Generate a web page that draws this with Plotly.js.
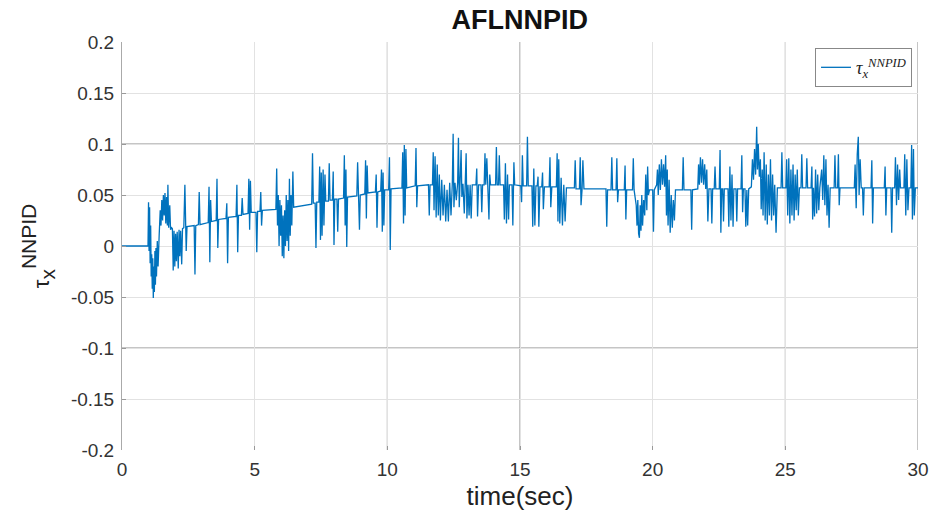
<!DOCTYPE html>
<html><head><meta charset="utf-8">
<script src="https://cdn.plot.ly/plotly-3.0.1.min.js"></script>
<style>html,body{margin:0;padding:0;background:#fff}#chart{width:933px;height:523px}</style>
</head><body><div id="chart"></div>
<script>
const timeSec = [
0,0.98,1.00,1.02,1.04,1.06,1.08,1.10,1.12,1.14,1.16,1.18,1.20,1.22,1.24,1.26,1.28,1.30,1.33,1.36,1.40,1.44,1.47,1.50,1.53,1.56,1.59,1.62,1.65,1.68,1.71,1.73,1.76,1.80,1.83,1.87,
1.90,1.93,1.96,1.99,2.02,2.05,2.08,2.12,2.15,2.18,2.21,2.25,2.28,2.33,2.37,2.40,2.42,2.45,2.72,2.75,2.78,2.88,2.91,2.94,
3.25,3.28,3.31,3.34,3.37,3.55,3.58,3.61,3.64,3.92,3.95,3.98,4.01,4.30,4.33,4.36,4.39,4.50,4.53,4.56,4.75,4.78,4.81,4.84,4.87,
5.05,5.08,5.11,5.20,5.23,5.26,5.29,5.80,5.83,5.86,5.89,5.92,5.95,5.98,6.01,6.04,6.07,6.10,6.13,6.16,6.19,6.22,6.25,6.28,6.31,6.34,6.37,6.40,6.44,6.47,
7.15,7.18,7.21,7.28,7.31,7.34,7.42,7.45,7.48,7.51,7.54,7.58,7.61,7.65,7.68,7.78,7.81,7.84,7.93,7.96,7.99,8.02,8.10,8.13,8.16,8.35,8.38,8.41,8.44,8.47,8.50,
8.85,8.88,8.91,8.95,8.98,9.15,9.18,9.21,9.24,9.27,9.55,9.58,9.61,9.64,9.75,9.78,9.81,9.84,9.87,9.90,10.05,10.08,10.11,10.14,
10.55,10.58,10.61,10.64,10.67,10.70,10.73,11.05,11.08,11.11,11.14,11.55,11.58,11.61,11.70,11.73,11.76,11.80,11.84,11.88,11.92,11.96,12.00,12.05,12.10,12.15,12.20,12.25,12.30,12.35,12.40,12.45,12.48,12.51,
12.55,12.60,12.65,12.68,12.71,12.75,12.78,12.81,12.85,12.90,12.94,12.97,13.00,13.04,13.08,13.12,13.16,13.20,13.34,13.37,13.40,13.44,13.53,13.56,13.59,13.65,13.68,13.71,13.75,13.78,13.83,13.86,13.89,
14.08,14.11,14.14,14.19,14.22,14.25,14.38,14.41,14.45,14.49,14.53,14.57,14.60,14.70,14.73,14.77,14.80,15.03,15.06,15.09,15.12,15.25,15.28,15.31,15.45,15.48,15.52,15.56,15.60,15.65,15.68,15.71,15.75,
15.82,15.85,15.88,15.92,16.10,16.13,16.16,16.20,16.37,16.40,16.43,16.46,16.50,16.55,16.60,16.65,16.70,16.75,17.05,17.08,17.11,17.24,17.27,17.30,17.34,17.37,17.41,18.24,18.27,18.30,
18.43,18.46,18.49,18.62,18.65,18.68,18.71,18.93,18.96,18.99,19.02,19.24,19.27,19.30,19.38,19.41,19.44,19.47,19.50,19.53,19.56,19.59,19.62,19.66,19.70,19.74,19.78,19.81,19.84,19.88,
20.00,20.03,20.06,20.15,20.18,20.21,20.25,20.29,20.33,20.37,20.41,20.45,20.49,20.52,20.55,20.58,20.62,20.66,20.70,20.74,20.78,20.82,20.86,21.12,21.15,21.18,21.44,21.47,21.50,
21.70,21.73,21.76,21.80,21.84,21.88,21.92,21.96,22.00,22.04,22.08,22.12,22.20,22.23,22.26,22.32,22.35,22.38,22.51,22.54,22.57,22.60,22.64,22.67,22.70,22.84,22.87,22.91,22.95,22.99,23.03,23.06,
23.14,23.17,23.20,23.33,23.36,23.39,23.42,23.48,23.51,23.55,23.58,23.62,23.72,23.76,23.80,23.84,23.88,23.92,23.95,23.98,24.02,24.06,24.09,
24.13,24.16,24.20,24.24,24.28,24.32,24.36,24.40,24.44,24.48,24.52,24.56,24.60,24.65,24.70,24.84,24.87,24.90,25.02,25.05,25.09,25.13,25.17,25.21,25.25,25.29,25.33,25.37,25.41,25.45,25.49,25.53,
25.59,25.62,25.65,25.78,25.81,25.84,25.97,26.00,26.03,26.06,26.10,26.14,26.18,26.22,26.26,26.30,26.37,26.41,26.45,26.49,26.53,26.57,26.61,26.65,26.69,26.84,26.87,26.90,26.97,27.00,27.03,27.06,
27.60,27.63,27.67,27.71,27.75,27.78,27.82,27.86,27.91,27.94,27.97,28.23,28.26,28.29,28.32,28.73,28.76,28.79,28.82,28.98,29.01,29.04,29.12,29.15,29.19,29.23,29.27,29.31,29.34,
29.47,29.50,29.54,29.58,29.62,29.66,29.73,29.76,29.79,29.83,29.86,29.90,30.00
];
const tauX = [
0,0,0.043,-0.005,0.038,-0.017,0.02,-0.03,-0.008,-0.042,-0.012,-0.051,-0.02,-0.045,-0.005,-0.038,-0.002,-0.03,0.005,-0.02,0.01,0.035,0.02,0.045,0.025,0.05,0.03,0.052,0.022,0.048,0.02,0.06,0.018,0.04,0.016,0.018,
0.017,-0.024,0.015,-0.02,0.012,-0.015,0.014,-0.022,0.016,-0.01,0.015,-0.018,0.017,0.018,0.06,0.018,-0.005,0.019,0.02,-0.028,0.02,0.021,0.053,0.021,
0.023,0.058,-0.016,0.045,0.024,0.025,0.066,-0.002,0.026,0.027,0.042,-0.017,0.028,0.029,0.06,-0.006,0.03,0.03,0.047,0.031,0.032,0.066,0.016,0.064,0.033,
0.033,-0.006,0.034,0.034,0.053,0.02,0.035,0.036,0.076,0.02,0.05,0.0,0.045,0.01,0.04,-0.01,0.03,-0.012,0.035,0.0,0.05,0.005,0.045,-0.005,0.066,0.01,0.05,0.02,0.073,0.038,
0.041,0.091,0.042,0.042,-0.002,0.043,0.043,0.078,0.006,0.072,0.01,0.075,0.02,0.07,0.044,0.044,0.081,0.045,0.045,0.073,0.001,0.046,0.046,0.014,0.046,0.047,0.089,0.02,0.075,-0.001,0.048,
0.049,0.082,0.05,0.016,0.05,0.051,0.084,0.027,0.079,0.052,0.053,0.07,0.018,0.053,0.054,0.075,0.014,0.072,0.02,0.055,0.055,0.087,-0.004,0.056,
0.057,0.092,0.022,0.099,0.03,0.095,0.057,0.059,0.096,0.038,0.059,0.06,0.03,0.06,0.06,0.092,0.035,0.088,0.028,0.08,0.03,0.07,0.025,0.065,0.03,0.06,0.024,0.055,0.024,0.062,0.03,0.062,0.11,0.038,
0.062,0.045,0.062,0.106,0.038,0.061,0.094,0.048,0.061,0.032,0.061,0.091,0.027,0.06,0.03,0.06,0.027,0.06,0.06,0.076,0.029,0.06,0.06,0.033,0.06,0.06,0.091,0.06,0.086,0.06,0.026,0.07,0.06,
0.06,0.097,0.06,0.06,0.089,0.06,0.06,0.026,0.081,0.022,0.07,0.026,0.06,0.06,0.02,0.082,0.06,0.059,0.043,0.089,0.059,0.059,0.107,0.059,0.059,0.019,0.076,0.02,0.059,0.059,0.068,0.019,0.058,
0.058,0.072,0.036,0.058,0.058,0.087,0.038,0.058,0.058,0.091,0.024,0.085,0.022,0.067,0.02,0.06,0.024,0.057,0.057,0.084,0.056,0.056,0.087,0.04,0.056,0.084,0.056,0.056,0.019,0.055,
0.055,0.087,0.055,0.055,0.086,0.043,0.055,0.055,0.079,0.026,0.055,0.055,0.086,0.055,0.04,0.02,0.045,0.012,0.008,0.04,0.015,0.05,0.02,0.045,0.03,0.07,0.035,0.078,0.05,0.055,
0.055,0.014,0.055,0.06,0.075,0.05,0.08,0.055,0.085,0.06,0.08,0.058,0.089,0.03,0.075,0.02,0.065,0.013,0.05,0.018,0.045,0.025,0.055,0.055,0.087,0.055,0.055,0.016,0.055,
0.056,0.08,0.06,0.087,0.062,0.085,0.06,0.08,0.056,0.075,0.024,0.056,0.056,0.022,0.056,0.056,0.078,0.056,0.056,0.094,0.013,0.056,0.056,0.024,0.056,0.056,0.019,0.078,0.025,0.07,0.019,0.056,
0.056,0.024,0.056,0.056,0.089,0.033,0.056,0.056,0.019,0.055,0.02,0.056,0.058,0.085,0.065,0.095,0.07,0.117,0.075,0.1,0.068,0.085,0.036,
0.075,0.03,0.092,0.025,0.08,0.021,0.07,0.03,0.085,0.025,0.07,0.03,0.06,0.013,0.057,0.057,0.092,0.057,0.057,0.085,0.03,0.086,0.022,0.075,0.03,0.08,0.025,0.07,0.035,0.075,0.03,0.057,
0.057,0.09,0.057,0.057,0.086,0.057,0.057,0.078,0.026,0.057,0.029,0.075,0.032,0.07,0.035,0.057,0.075,0.045,0.089,0.04,0.085,0.03,0.06,0.018,0.057,0.057,0.089,0.057,0.057,0.09,0.04,0.057,
0.057,0.08,0.037,0.09,0.107,0.05,0.085,0.057,0.057,0.03,0.057,0.057,0.084,0.022,0.057,0.057,0.078,0.03,0.057,0.057,0.013,0.057,0.057,0.087,0.04,0.08,0.045,0.075,0.057,
0.057,0.09,0.03,0.085,0.035,0.057,0.057,0.099,0.026,0.095,0.03,0.057,0.057
];
const xTickVals = [0,5,10,15,20,25,30];
const yTickVals = [-0.2,-0.15,-0.1,-0.05,0,0.05,0.1,0.15,0.2];
const yTickText = ['-0.2','-0.15','-0.1','-0.05','0','0.05','0.1','0.15','0.2'];
const darkGridX = [10,15,25,30];
const darkGridY = [0.1,-0.1];

const shapes = [];
darkGridX.forEach(v => shapes.push({type:'line', xref:'x', yref:'paper', x0:v, x1:v, y0:0, y1:1, layer:'below', line:{color:'#8a8a8a', width:1}}));
darkGridY.forEach(v => shapes.push({type:'line', xref:'paper', yref:'y', x0:0, x1:1, y0:v, y1:v, layer:'below', line:{color:'#8a8a8a', width:1}}));

const trace = {
  x: timeSec, y: tauX, type:'scatter', mode:'lines',
  line:{color:'#0072BD', width:1.3},
  name:'<i>τ</i><sub><i>x</i></sub><sup><i>NNPID</i></sup>',
  showlegend:true
};

const layout = {
  width:933, height:523,
  margin:{l:122, r:15, t:42, b:73},
  paper_bgcolor:'#ffffff', plot_bgcolor:'#ffffff',
  font:{family:'"Liberation Sans", Arial, sans-serif', color:'#333333'},
  title:{text:'<b>AFLNNPID</b>', x:0.557, xanchor:'center', y:0.962, yanchor:'middle', font:{size:27, color:'#111111'}},
  xaxis:{range:[0,30], tickvals:xTickVals, ticktext:xTickVals.map(String), showgrid:true, gridcolor:'#e2e2e2', gridwidth:1,
    zeroline:false, showline:false, ticks:'inside', ticklen:4, tickcolor:'#999', tickfont:{size:19, color:'#333'}, ticklabelstandoff:6,
    title:{text:'time(sec)', font:{size:26, color:'#222'}, standoff:7}},
  yaxis:{range:[-0.2,0.2], tickvals:yTickVals, ticktext:yTickText, showgrid:true, gridcolor:'#e2e2e2', gridwidth:1,
    zeroline:false, showline:true, linecolor:'#aaaaaa', linewidth:1, ticks:'inside', ticklen:4, tickcolor:'#999', tickfont:{size:19, color:'#333'}, ticklabelstandoff:3,
    title:{text:'<span style="font-size:22px">τ</span><sub>x</sub><sup>NNPID</sup>', font:{size:30, color:'#222'}, standoff:12}},
  shapes: shapes,
  legend:{x:0.9925, xanchor:'right', y:0.985, yanchor:'top', bgcolor:'#ffffff', bordercolor:'#888888', borderwidth:1,
    font:{family:'"Liberation Serif", "DejaVu Serif", serif', size:18, color:'#222'}},
  showlegend:true
};
Plotly.newPlot('chart', [trace], layout, {displayModeBar:false, staticPlot:true});
</script></body></html>
